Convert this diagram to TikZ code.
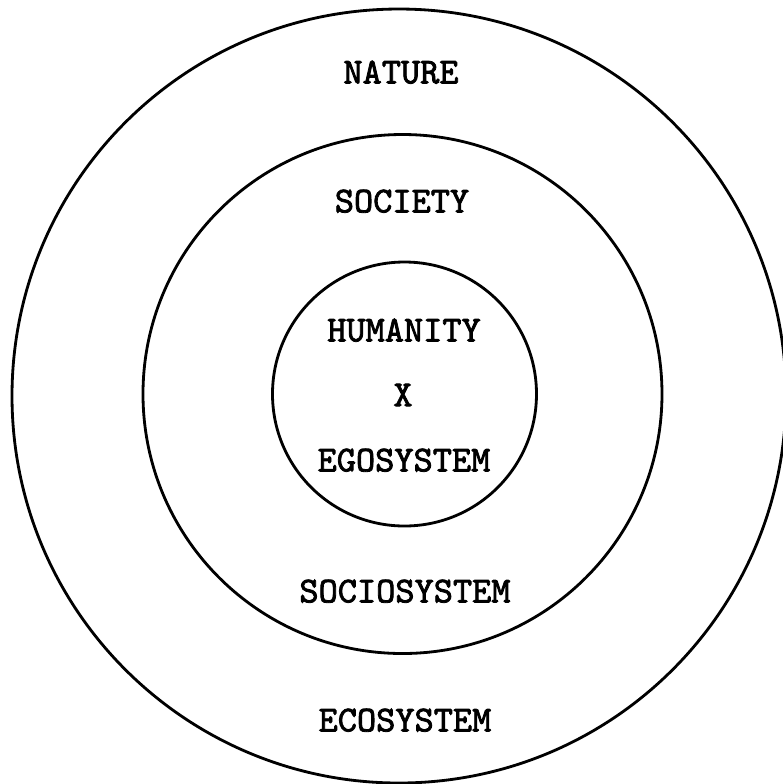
\documentclass[tikz,border=0pt]{standalone}
\usepackage{fontspec}
\newfontfamily\typer{Latin Modern Mono}[AutoFakeBold=2.2]
\tikzset{
  ring/.style={line width=0.8pt},
  lbl/.style={font=\typer\bfseries\fontsize{10.4}{12}\selectfont, inner sep=0pt, text depth=0pt}
}
\begin{document}
\begin{tikzpicture}
  \useasboundingbox (0,0) rectangle (7.83,-7.84);
  \clip (0,0) rectangle (7.83,-7.84);

  \coordinate (O1) at (3.99,-3.96);
  \coordinate (O2) at (4.025,-3.94);
  \coordinate (O3) at (4.045,-3.94);

  \draw[ring] (O1) circle (3.87);
  \draw[ring] (O2) circle (2.595);
  \draw[ring] (O3) circle (1.32);

  \node[lbl] (nature) at (4.01,-0.72) {NATURE};
  \node[lbl] (society) at (4.02,-2.01) {SOCIETY};
  \node[lbl] (humanity) at (4.04,-3.30) {HUMANITY};
  \node[lbl] (x) at (4.03,-3.95) {X};
  \node[lbl] (ego) at (4.04,-4.60) {EGOSYSTEM};
  \node[lbl] (socio) at (4.05,-5.91) {SOCIOSYSTEM};
  \node[lbl] (eco) at (4.05,-7.20) {ECOSYSTEM};
\end{tikzpicture}
\end{document}
